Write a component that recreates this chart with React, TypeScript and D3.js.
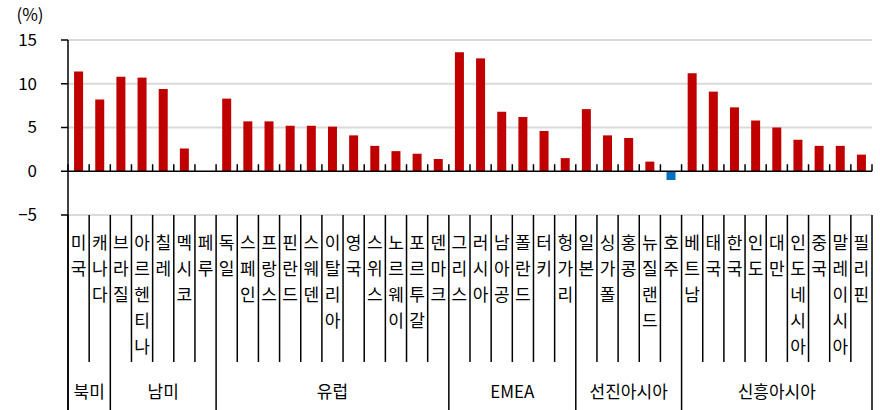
import React from "react";
import * as d3 from "d3";

const categories = ["미국","캐나다","브라질","아르헨티나","칠레","멕시코","페루","독일","스페인","프랑스","핀란드","스웨덴","이탈리아","영국","스위스","노르웨이","포르투갈","덴마크","그리스","러시아","남아공","폴란드","터키","헝가리","일본","싱가폴","홍콩","뉴질랜드","호주","베트남","태국","한국","인도","대만","인도네시아","중국","말레이시아","필리핀"];
const values = [11.4,8.2,10.8,10.7,9.4,2.6,0,8.3,5.7,5.7,5.2,5.2,5.1,4.1,2.9,2.3,2.0,1.4,13.6,12.9,6.8,6.2,4.6,1.5,7.1,4.1,3.8,1.1,-1.0,11.2,9.1,7.3,5.8,5.0,3.6,2.9,2.9,1.9];
const groups = ["북미","남미","유럽","EMEA","선진아시아","신흥아시아"];
const groupSizes = [2,5,11,6,5,9];
const yTicks = [-5,0,5,10,15];

const W = 880, H = 410;
const FONT = "'Noto Sans CJK KR', 'Noto Sans', sans-serif";

export default function App() {
  const x = d3.scaleBand<string>().domain(categories).range([68, 872]).padding(0);
  const y = d3.scaleLinear().domain([-5, 15]).range([215, 40]);
  const bw = x.bandwidth();
  const barW = 9;
  const tableTop = y(-5);
  const catBottom = 362;

  const groupStarts: number[] = [];
  let acc = 0;
  groupSizes.forEach((s) => { groupStarts.push(acc); acc += s; });
  const groupEdges = new Set<number>();
  groupStarts.forEach((s) => groupEdges.add(s));
  groupEdges.add(categories.length);

  const edgeX = (i: number) => 68 + i * bw;

  return (
    <svg width={W} height={H} style={{ position: "absolute", left: 0, top: 0, background: "#fff" }} fontFamily={FONT}>
      <rect x={0} y={0} width={W} height={H} fill="#fff" />
      {yTicks.filter((t) => t !== 0).map((t) => (
        <line key={"g" + t} x1={68} x2={872} y1={y(t)} y2={y(t)} stroke="#dadada" strokeWidth={2} />
      ))}
      {yTicks.map((t) => (
        <g key={"yt" + t}>
          <line x1={61} x2={68} y1={y(t)} y2={y(t)} stroke="#000" strokeWidth={1.5} />
          <text x={37} y={y(t)} dy="0.35em" textAnchor="end" fontSize={17} fill="#000">{t < 0 ? "−" + Math.abs(t) : t}</text>
        </g>
      ))}
      <text x={30} y={15} dy="0.35em" textAnchor="middle" fontSize={17} fill="#000">(%)</text>
      {categories.map((c, i) => {
        const v = values[i];
        if (v === 0) return null;
        const cx = (x(c) as number) + bw / 2;
        return (
          <rect key={"b" + c} x={cx - barW / 2} width={barW}
            y={Math.min(y(v), y(0))} height={Math.abs(y(v) - y(0))}
            fill={v >= 0 ? "#c00000" : "#0070c0"} />
        );
      })}
      <line x1={68} x2={872} y1={y(0)} y2={y(0)} stroke="#000" strokeWidth={1.5} />
      {d3.range(categories.length + 1).map((i) => (
        <line key={"zt" + i} x1={edgeX(i)} x2={edgeX(i)} y1={y(0) - 7} y2={y(0)} stroke="#000" strokeWidth={1.5} />
      ))}
      {d3.range(categories.length + 1).map((i) => (
        <line key={"tv" + i} x1={edgeX(i)} x2={edgeX(i)} y1={tableTop} y2={groupEdges.has(i) ? H : catBottom} stroke="#000" strokeWidth={1.5} />
      ))}
      <line x1={68} x2={68} y1={y(15)} y2={H} stroke="#000" strokeWidth={1.5} />
      {categories.map((c) => {
        const cx = (x(c) as number) + bw / 2;
        return (
          <text key={"l" + c} x={cx} y={243} textAnchor="middle" fontSize={17} fill="#000">
            {Array.from(c).map((ch, k) => (
              <tspan key={k} x={cx} y={243 + k * 26} dy="0.35em">{ch}</tspan>
            ))}
          </text>
        );
      })}
      {groups.map((g, gi) => {
        const x0 = edgeX(groupStarts[gi]);
        const x1 = edgeX(groupStarts[gi] + groupSizes[gi]);
        return (
          <text key={"gl" + g} x={(x0 + x1) / 2} y={392} dy="0.35em" textAnchor="middle" fontSize={17} fill="#000">{g}</text>
        );
      })}
    </svg>
  );
}
